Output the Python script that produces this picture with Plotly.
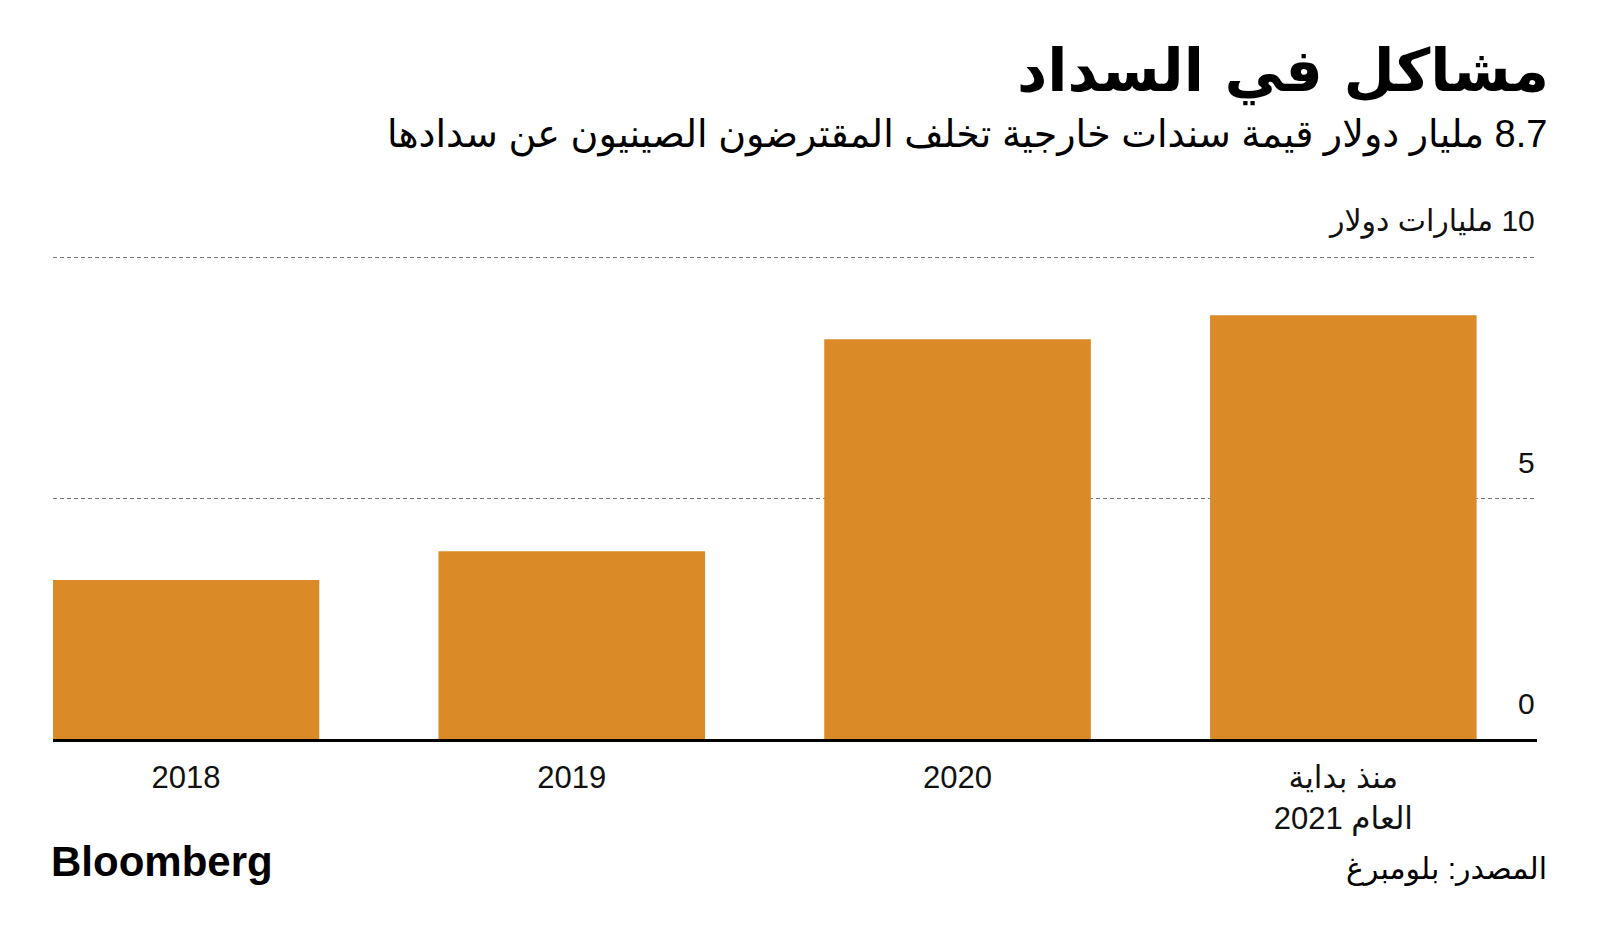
import plotly.graph_objects as go

categories = ["2018", "2019", "2020", "منذ بداية<br>العام 2021"]
values = [3.3, 3.9, 8.3, 8.8]
y_tick_vals = [0, 5, 10]
y_tick_text = ["0", "5", "10 مليارات دولار"]

title = "مشاكل في السداد"
subtitle = "8.7 مليار دولار قيمة سندات خارجية تخلف المقترضون الصينيون عن سدادها"
source = "المصدر: بلومبرغ"

RLM = "\u200f"
W, H = 1600, 940
L, R, T, B = 53, 63, 255, 201
plot_h = H - T - B

FONT = "Liberation Sans, DejaVu Sans, sans-serif"
AR_FONT = "DejaVu Sans, Liberation Sans, sans-serif"


def py(pix):
    return (H - B - pix) / plot_h


fig = go.Figure()
fig.add_trace(go.Bar(
    x=categories, y=values, width=0.691,
    marker=dict(color="#DA8A27", line=dict(width=0)),
    hoverinfo="skip",
))

annotations = []
for v, t in zip(y_tick_vals, y_tick_text):
    annotations.append(dict(
        x=1, xref="paper", y=v, yref="y", text=RLM + t, showarrow=False,
        xanchor="right", yanchor="middle", yshift=36,
        font=dict(family=FONT, size=30, color="#111"),
    ))

annotations += [
    dict(x=1, xref="paper", xshift=14, y=py(71), yref="paper", text="<b>" + title + "</b>",
         showarrow=False, xanchor="right", yanchor="middle",
         font=dict(family=AR_FONT, size=59, color="#000")),
    dict(x=1, xref="paper", xshift=12, y=py(135), yref="paper", text=RLM + subtitle,
         showarrow=False, xanchor="right", yanchor="middle",
         font=dict(family=FONT, size=38, color="#000")),
    dict(x=1, xref="paper", xshift=12, y=py(869), yref="paper", text=RLM + source,
         showarrow=False, xanchor="right", yanchor="middle",
         font=dict(family=FONT, size=30, color="#000")),
    dict(x=0, xref="paper", xshift=-4, y=py(862), yref="paper", text="<b>Bloomberg</b>",
         showarrow=False, xanchor="left", yanchor="middle",
         font=dict(family="Liberation Sans, Arial, sans-serif", size=42, color="#000")),
]

fig.update_layout(
    width=W, height=H,
    margin=dict(l=L, r=R, t=T, b=B, pad=0),
    paper_bgcolor="white", plot_bgcolor="white",
    showlegend=False,
    bargap=0.3,
    annotations=annotations,
    xaxis=dict(
        type="category", range=[-0.3447, 3.502], fixedrange=True,
        showline=True, linecolor="#000", linewidth=3,
        showgrid=False, ticks="", ticklen=0, ticklabelstandoff=9,
        tickfont=dict(family=FONT, size=31, color="#111"),
    ),
    yaxis=dict(
        range=[0, 10.05], tickvals=y_tick_vals, showticklabels=False,
        showgrid=True, gridcolor="#777", gridwidth=1, griddash="4px,3px",
        zeroline=False, showline=False, ticks="", fixedrange=True,
    ),
)

fig.write_html("out.html")
